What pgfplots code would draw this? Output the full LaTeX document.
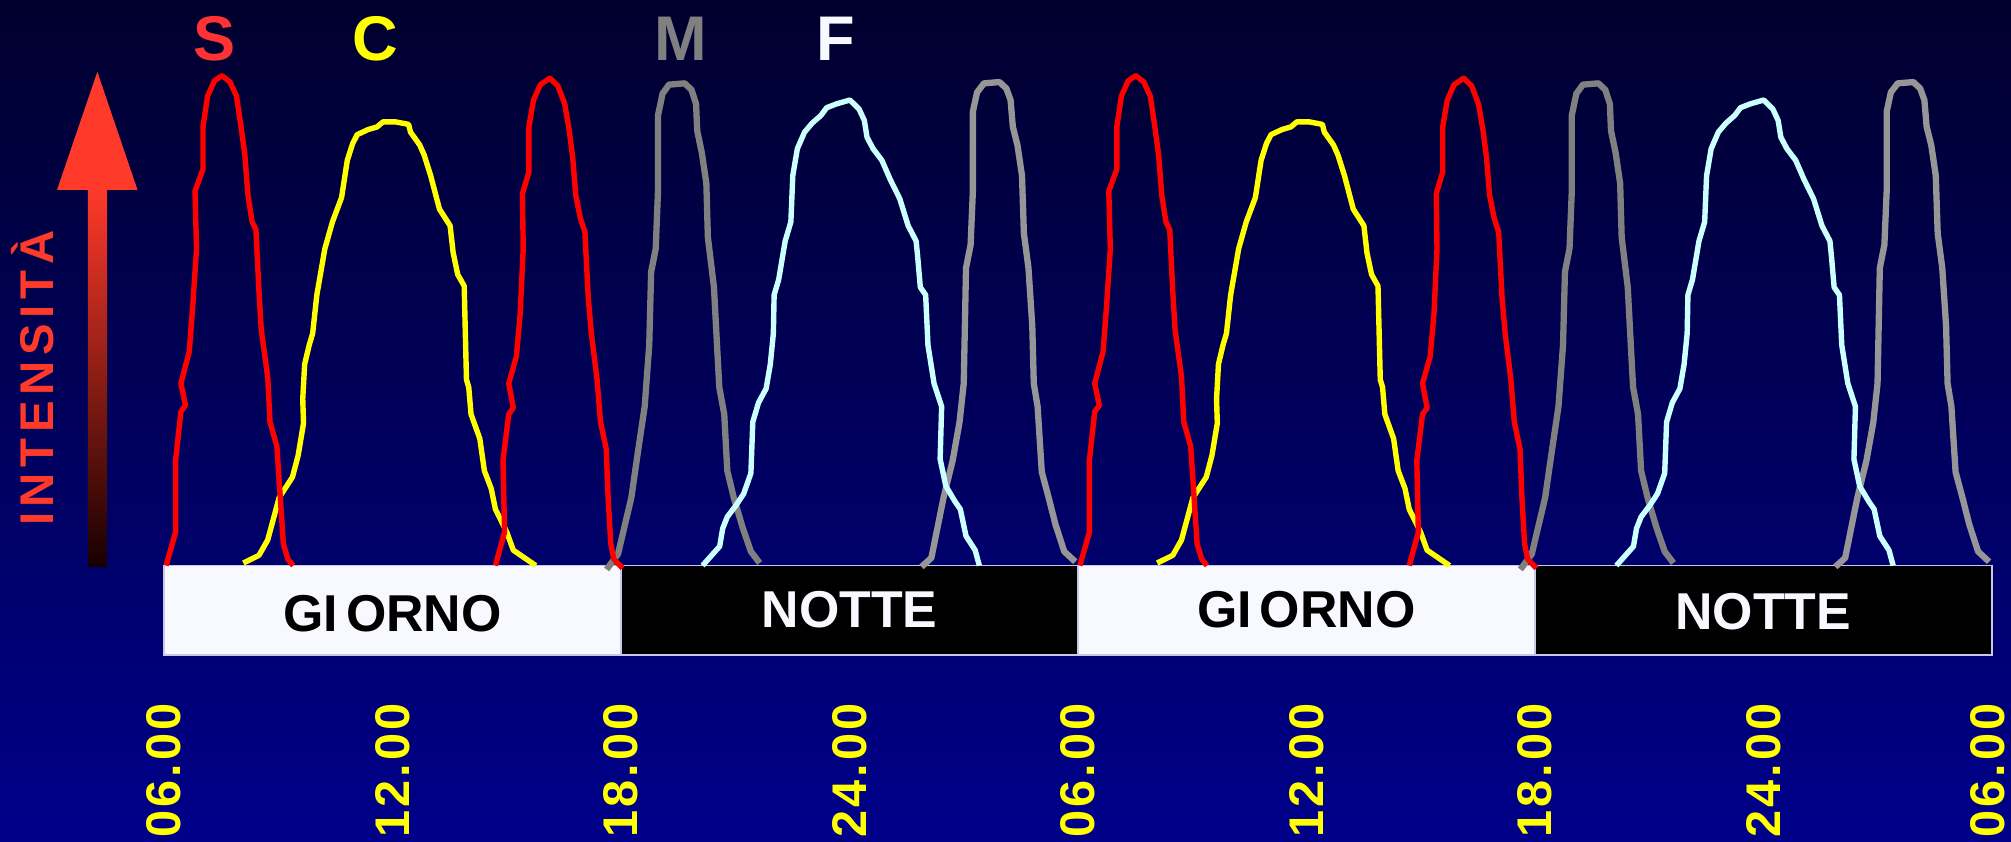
\documentclass[border=0pt]{standalone}
\usepackage{pgfplots}
\pgfplotsset{compat=1.18}
\usepackage{pgfplotstable}
\usepackage{fontspec}
\setmainfont{Liberation Sans}
\newfontfamily\spaced[LetterSpace=6]{Liberation Sans}
\newfontfamily\wide[LetterSpace=12]{Liberation Sans}

\definecolor{bgtop}{RGB}{0,0,45}
\definecolor{bgbot}{RGB}{0,0,138}
\definecolor{sred}{RGB}{255,0,0}
\definecolor{labred}{RGB}{255,58,42}
\definecolor{cyel}{RGB}{255,255,0}
\definecolor{mgray}{RGB}{128,128,128}
\definecolor{mgrayb}{RGB}{150,150,150}
\definecolor{fcyan}{RGB}{204,255,255}
\definecolor{boxwhite}{RGB}{248,248,255}
\definecolor{boxedge}{RGB}{200,200,235}

% hours (day 1) vs intensity; day 2 repeats the same curves 24 h later
\pgfplotstableread{
h v
6.05 0
6.30 26
6.30 82
6.44 120
6.56 125
6.44 142
6.66 167
6.75 202
6.85 247
6.81 292
7.02 309
7.02 342
7.14 366
7.32 378
7.52 382
7.73 377
7.90 366
8.02 342
8.12 320
8.20 289
8.31 268
8.41 262
8.49 214
8.55 184
8.72 147
8.78 112
8.96 93
9.05 53
9.13 17
9.25 5
9.39 0
}\sone

\pgfplotstableread{
h v
14.70 0
14.94 26
14.90 82
15.05 118
15.17 123
15.05 142
15.25 163
15.35 196
15.43 247
15.41 290
15.58 307
15.58 342
15.70 363
15.88 375
16.13 380
16.34 374
16.52 360
16.64 339
16.73 318
16.81 289
16.93 271
17.05 260
17.14 208
17.22 181
17.37 145
17.46 112
17.61 91
17.66 53
17.73 17
17.81 5
18.04 -2
}\stwo

\pgfplotstableread{
h v
8.08 2
8.49 8
8.72 20
9.02 53
9.37 69
9.52 86
9.66 111
9.64 130
9.69 157
9.81 172
9.90 181
10.01 211
10.22 247
10.42 268
10.66 287
10.81 316
10.95 329
11.07 336
11.36 340
11.59 342
11.75 346
12.07 346
12.42 344
12.47 338
12.71 328
12.83 320
13.00 304
13.23 278
13.51 265
13.59 244
13.71 227
13.88 218
13.94 145
14.00 139
14.06 118
14.29 99
14.41 74
14.59 60
14.70 44
15.00 26
15.17 12
15.76 0
}\cort

\pgfplotstableread{
h v
17.62 -3
17.92 9
18.27 53
18.44 88
18.62 124
18.74 172
18.79 229
18.91 247
18.97 292
18.97 351
19.09 368
19.26 375
19.67 376
19.85 371
19.97 360
20.00 339
20.12 322
20.24 298
20.28 256
20.44 217
20.52 172
20.58 139
20.71 118
20.79 74
20.96 53
21.20 29
21.41 11
21.64 2
}\mone

\pgfplotstableread{
h v
25.89 -1
26.15 6
26.47 53
26.71 82
26.89 112
27.00 142
27.06 232
27.18 250
27.24 292
27.24 354
27.35 369
27.53 376
27.94 377
28.12 372
28.23 363
28.29 342
28.41 328
28.53 304
28.58 259
28.70 232
28.80 187
28.84 142
28.94 124
29.05 73
29.23 53
29.41 32
29.64 11
29.93 3
}\mtwo

\pgfplotstableread{
h v
20.14 0
20.38 8
20.59 15
20.67 29
20.79 38
21.02 47
21.22 56
21.41 72
21.46 112
21.61 127
21.81 138
21.92 157
22.00 181
22.02 211
22.14 223
22.31 253
22.46 268
22.51 304
22.63 325
22.82 338
23.02 345
23.25 351
23.40 357
23.66 360
24.01 363
24.25 356
24.39 347
24.46 334
24.62 325
24.85 316
25.07 301
25.32 286
25.54 265
25.75 253
25.79 241
25.86 217
26.00 211
26.06 172
26.22 142
26.42 124
26.38 83
26.53 62
26.77 50
26.91 44
27.06 23
27.30 12
27.41 0
}\fsh

\begin{document}
\begin{tikzpicture}
% background
\shade[top color=bgtop, bottom color=bgbot] (-12.8mm,-21.5mm) rectangle (144mm,44.1mm);

\begin{axis}[
    at={(0,0)}, anchor=south west,
    scale only axis, width=142.5mm, height=44.1mm,
    xmin=6, xmax=54, ymin=0, ymax=441,
    clip=false,
    axis line style={draw=none},
    major tick length=0pt,
    ytick=\empty,
    xtick={6,12,...,54},
    xticklabels={06.00,12.00,18.00,24.00,06.00,12.00,18.00,24.00,{\raisebox{1pt}[\height][\depth]{06.00}}},
    xticklabel style={rotate=90, anchor=east, inner sep=0pt, text=cyel,
        font=\spaced\bfseries\fontsize{10.8}{13}\selectfont},
    xticklabel shift=10.7mm,
    every axis plot/.append style={line width=1.2pt, line join=round},
]
% day / night bar
\filldraw[fill=boxwhite, draw=boxedge, line width=0.4pt] (axis cs:6,0) rectangle (axis cs:18,-70);
\filldraw[fill=black, draw=boxedge, line width=0.4pt] (axis cs:18,0) rectangle (axis cs:30,-70);
\filldraw[fill=boxwhite, draw=boxedge, line width=0.4pt] (axis cs:30,0) rectangle (axis cs:42,-70);
\filldraw[fill=black, draw=boxedge, line width=0.4pt] (axis cs:42,0) rectangle (axis cs:54,-70);
\node[font=\bfseries\fontsize{11.5}{13}\selectfont, text=black] at (axis cs:12,-37.5) {GI\kern0.15em ORNO};
\node[font=\bfseries\fontsize{11.5}{13}\selectfont, text=boxwhite] at (axis cs:24,-34.7) {NOTTE};
\node[font=\bfseries\fontsize{11.5}{13}\selectfont, text=black] at (axis cs:36,-34.7) {GI\kern0.15em ORNO};
\node[font=\bfseries\fontsize{11.5}{13}\selectfont, text=boxwhite] at (axis cs:48,-36) {NOTTE};

% day 1
\addplot[mgray, line width=1.4pt] table[x=h, y=v] {\mone};
\addplot[mgrayb, line width=1.4pt] table[x=h, y=v] {\mtwo};
\addplot[fcyan] table[x=h, y=v] {\fsh};
\addplot[cyel] table[x=h, y=v] {\cort};
\addplot[sred] table[x=h, y=v] {\sone};
\addplot[sred] table[x=h, y=v] {\stwo};
% day 2
\addplot[mgray, line width=1.4pt] table[x expr=\thisrow{h}+24, y=v] {\mone};
\addplot[mgrayb, line width=1.4pt] table[x expr=\thisrow{h}+24, y=v] {\mtwo};
\addplot[fcyan] table[x expr=\thisrow{h}+24, y=v] {\fsh};
\addplot[cyel] table[x expr=\thisrow{h}+24, y=v] {\cort};
\addplot[sred] table[x expr=\thisrow{h}+24, y=v] {\sone};
\addplot[sred] table[x expr=\thisrow{h}+24, y=v] {\stwo};
\end{axis}

% intensity arrow
\shade[top color=labred, bottom color={rgb,255:red,22;green,0;blue,0}]
    (-5.94mm,-0.1mm) rectangle (-4.45mm,29.5mm);
\fill[labred] (-5.21mm,38.5mm) -- (-8.35mm,29.3mm) -- (-2.08mm,29.3mm) -- cycle;
\node[rotate=90, anchor=base, text=labred, inner sep=0pt,
    font=\wide\bfseries\fontsize{10.5}{12}\selectfont] at (-8.6mm,14.6mm) {INTENSITÀ};

% series letters
\begin{scope}[every node/.style={anchor=base, inner sep=0pt, font=\bfseries\fontsize{14}{16}\selectfont}]
\node[text={rgb,255:red,255;green,51;blue,51}] at (3.9mm,39.4mm) {S};
\node[text=cyel] at (16.5mm,39.4mm) {C};
\node[text={rgb,255:red,128;green,128;blue,128}] at (40.3mm,39.4mm) {M};
\node[text=boxwhite] at (52.4mm,39.4mm) {F};
\end{scope}

\pgfresetboundingbox
\useasboundingbox (-12.8mm,-21.5mm) rectangle (144mm,44.1mm);
\end{tikzpicture}
\end{document}
